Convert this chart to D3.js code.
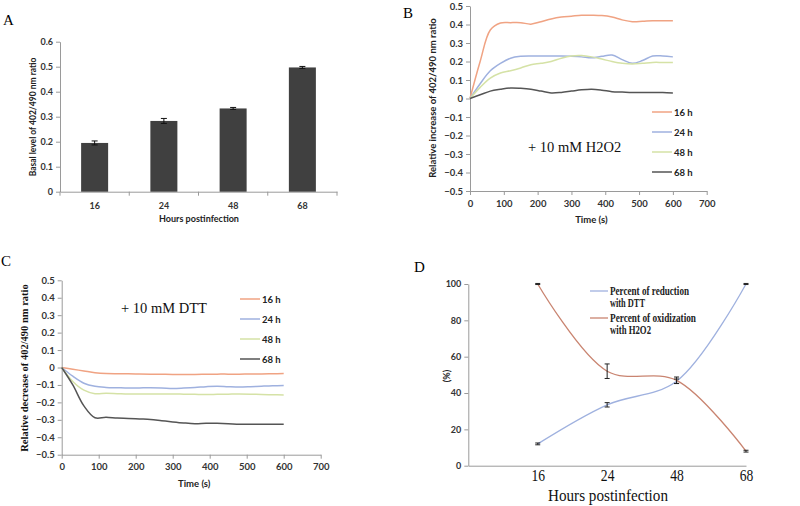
<!DOCTYPE html>
<html lang="en">
<head>
<meta charset="UTF-8">
<title>Redox ratio panels</title>
<script src="https://cdn.jsdelivr.net/npm/d3@7"></script>
<style>
  * { margin: 0; padding: 0; }
  body { background: #fff; }
  svg { display: block; }
  .sans { font-family: Lato, "Open Sans", sans-serif; font-weight: bold; }
  .serif { font-family: "Liberation Serif", "DejaVu Serif", serif; }
</style>
</head>
<body>
<svg width="800" height="506"></svg>
<script>
// ---- data ----
var hours = ["16", "24", "48", "68"];
var basal = [0.195, 0.283, 0.333, 0.497];
var basalErr = [0.008, 0.01, 0.004, 0.004];

var series = ["16 h", "24 h", "48 h", "68 h"];
var seriesColors = ["#f0a383", "#9fb1df", "#d5e2a6", "#555555"];
var times = [0, 30, 60, 90, 120, 150, 180, 210, 240, 270, 300, 330, 360, 390, 420, 450, 480, 510, 540, 570, 600];

// + H2O2
var h2o2_16 = [0, 0.2, 0.37, 0.408, 0.41, 0.41, 0.402, 0.415, 0.43, 0.44, 0.445, 0.45, 0.45, 0.448, 0.44, 0.425, 0.415, 0.417, 0.42, 0.42, 0.42];
var h2o2_24 = [0, 0.08, 0.15, 0.19, 0.218, 0.228, 0.23, 0.23, 0.23, 0.23, 0.228, 0.225, 0.22, 0.228, 0.235, 0.21, 0.19, 0.205, 0.23, 0.23, 0.225];
var h2o2_48 = [0, 0.06, 0.11, 0.138, 0.15, 0.165, 0.183, 0.19, 0.2, 0.218, 0.23, 0.232, 0.225, 0.213, 0.2, 0.19, 0.186, 0.19, 0.195, 0.195, 0.195];
var h2o2_68 = [0, 0.02, 0.04, 0.05, 0.057, 0.055, 0.05, 0.04, 0.03, 0.033, 0.04, 0.047, 0.05, 0.045, 0.037, 0.035, 0.033, 0.033, 0.033, 0.032, 0.03];

// + DTT
var dtt_16 = [0, -0.01, -0.02, -0.03, -0.035, -0.036, -0.036, -0.037, -0.038, -0.039, -0.04, -0.04, -0.04, -0.039, -0.038, -0.038, -0.038, -0.037, -0.037, -0.036, -0.035];
var dtt_24 = [0, -0.05, -0.09, -0.108, -0.114, -0.116, -0.118, -0.117, -0.116, -0.117, -0.12, -0.118, -0.115, -0.11, -0.107, -0.11, -0.112, -0.11, -0.107, -0.105, -0.103];
var dtt_48 = [0, -0.08, -0.13, -0.15, -0.148, -0.15, -0.152, -0.152, -0.152, -0.152, -0.152, -0.153, -0.154, -0.155, -0.154, -0.153, -0.152, -0.153, -0.155, -0.156, -0.157];
var dtt_68 = [0, -0.1, -0.22, -0.288, -0.285, -0.29, -0.292, -0.295, -0.298, -0.305, -0.312, -0.318, -0.322, -0.32, -0.32, -0.322, -0.325, -0.325, -0.325, -0.325, -0.325];

// percent panel
var pctCats = ["", "16", "24", "48", "68"];
var pctDTT = [12, 33.5, 46.5, 100];
var pctDTTErr = [0.5, 1.2, 1.2, 0.3];
var pctH2O2 = [100, 52, 47, 8];
var pctH2O2Err = [0.3, 4, 1.8, 0.5];

var svg = d3.select("svg");
var axisColor = "#9a9a9a";

function styleAxis(g, fontSize) {
  g.select(".domain").attr("stroke", axisColor);
  g.selectAll(".tick line").attr("stroke", axisColor);
  g.selectAll(".tick text").attr("fill", "#333").attr("class", "sans").style("font-size", fontSize + "px");
}

// ================= A =================
var ax = d3.scaleBand().domain(hours).range([60, 337]).paddingInner(0.61).paddingOuter(0.305);
var ay = d3.scaleLinear().domain([0, 0.6]).range([191.7, 41.7]);

svg.append("text").attr("class", "serif").attr("x", 3).attr("y", 25).style("font-size", "15px").text("A");

var gA = svg.append("g");
gA.append("g").attr("transform", "translate(60,0)")
  .call(d3.axisLeft(ay).ticks(6).tickSize(4).tickSizeOuter(0).tickFormat(d3.format("~g")))
  .call(styleAxis, 9);
gA.append("g").attr("transform", "translate(0," + ay(0) + ")")
  .call(d3.axisBottom(ax).tickSize(0).tickPadding(11))
  .call(styleAxis, 9);
// category boundary ticks
var bounds = d3.range(hours.length + 1).map(function (i) { return ax.range()[0] + i * ax.step(); });
gA.selectAll(".btick").data(bounds).enter().append("line")
  .attr("x1", function (d) { return d; }).attr("x2", function (d) { return d; })
  .attr("y1", ay(0)).attr("y2", ay(0) + 4).attr("stroke", axisColor);

gA.selectAll(".bar").data(basal).enter().append("rect")
  .attr("x", function (d, i) { return ax(hours[i]); })
  .attr("y", function (d) { return ay(d); })
  .attr("width", ax.bandwidth())
  .attr("height", function (d) { return ay(0) - ay(d); })
  .attr("fill", "#404040");

var errA = gA.selectAll(".err").data(basal).enter().append("g")
  .attr("transform", function (d, i) { return "translate(" + (ax(hours[i]) + ax.bandwidth() / 2) + ",0)"; });
errA.append("line").attr("y1", function (d, i) { return ay(d - basalErr[i]); })
  .attr("y2", function (d, i) { return ay(d + basalErr[i]); }).attr("stroke", "#111");
errA.append("line").attr("x1", -3).attr("x2", 3).attr("y1", function (d, i) { return ay(d - basalErr[i]); })
  .attr("y2", function (d, i) { return ay(d - basalErr[i]); }).attr("stroke", "#111");
errA.append("line").attr("x1", -3).attr("x2", 3).attr("y1", function (d, i) { return ay(d + basalErr[i]); })
  .attr("y2", function (d, i) { return ay(d + basalErr[i]); }).attr("stroke", "#111");

svg.append("text").attr("class", "sans").attr("text-anchor", "middle")
  .attr("x", 199).attr("y", 222).style("font-size", "9px").attr("fill", "#222").text("Hours postinfection");
svg.append("text").attr("class", "sans").attr("text-anchor", "middle")
  .attr("transform", "translate(36,117) rotate(-90)").style("font-size", "8.5px").attr("fill", "#222")
  .text("Basal level of 402/490 nm ratio");

// ================= B & C (time courses) =================
function timePanel(opts) {
  var x = d3.scaleLinear().domain([0, 700]).range(opts.xr);
  var y = d3.scaleLinear().domain([-0.5, 0.5]).range(opts.yr);
  var g = svg.append("g");
  g.append("g").attr("transform", "translate(" + opts.xr[0] + ",0)")
    .call(d3.axisLeft(y).ticks(10).tickSize(4).tickSizeOuter(0).tickFormat(d3.format("~g")))
    .call(styleAxis, 9.5);
  g.append("g").attr("transform", "translate(0," + opts.yr[0] + ")")
    .call(d3.axisBottom(x).ticks(7).tickSize(4).tickSizeOuter(0).tickPadding(5))
    .call(styleAxis, 9.5);

  var line = d3.line()
    .x(function (d, i) { return x(times[i]); })
    .y(function (d) { return y(d); })
    .curve(d3.curveCatmullRom.alpha(0.5));
  opts.data.forEach(function (s, k) {
    g.append("path").datum(s).attr("d", line).attr("fill", "none")
      .attr("stroke", seriesColors[k]).attr("stroke-width", 1.5);
  });

  // legend
  series.forEach(function (name, k) {
    var ly = opts.legY + k * 20;
    g.append("line").attr("x1", opts.legX).attr("x2", opts.legX + 20).attr("y1", ly).attr("y2", ly)
      .attr("stroke", seriesColors[k]).attr("stroke-width", 1.5);
    g.append("text").attr("class", "sans").attr("x", opts.legX + 22).attr("y", ly + 3.5)
      .style("font-size", "9.5px").attr("fill", "#222").text(name);
  });

  g.append("text").attr("class", "serif").attr("x", opts.noteX).attr("y", opts.noteY)
    .style("font-size", "14.5px").attr("fill", "#111").text(opts.note);
  g.append("text").attr("class", "sans").attr("text-anchor", "middle")
    .attr("x", (opts.xr[0] + opts.xr[1]) / 2 + 3).attr("y", opts.yr[0] + 32)
    .style("font-size", "9.5px").attr("fill", "#222").text("Time (s)");
  return g;
}

svg.append("text").attr("class", "serif").attr("x", 403).attr("y", 18).style("font-size", "15px").text("B");
timePanel({
  xr: [470, 706.7], yr: [191, 6],
  data: [h2o2_16, h2o2_24, h2o2_48, h2o2_68],
  legX: 652, legY: 112,
  note: "+ 10 mM H2O2", noteX: 528, noteY: 152
});
svg.append("text").attr("class", "sans").attr("text-anchor", "middle")
  .attr("transform", "translate(436,98) rotate(-90)").style("font-size", "9.5px").attr("fill", "#222")
  .text("Relative increase of 402/490 nm ratio");

svg.append("text").attr("class", "serif").attr("x", 1).attr("y", 266).style("font-size", "15px").text("C");
timePanel({
  xr: [61.7, 320.7], yr: [454.7, 280.3],
  data: [dtt_16, dtt_24, dtt_48, dtt_68],
  legX: 240, legY: 299,
  note: "+ 10 mM DTT", noteX: 121, noteY: 313
});
svg.append("text").attr("class", "serif").attr("text-anchor", "middle")
  .attr("transform", "translate(28,368) rotate(-90)").style("font-size", "10.5px").style("font-weight", "bold")
  .attr("fill", "#111").text("Relative decrease of 402/490 nm ratio");

// ================= D =================
var dx = d3.scalePoint().domain(pctCats).range([468.3, 746]);
var dy = d3.scaleLinear().domain([0, 100]).range([465.7, 284]);

svg.append("text").attr("class", "serif").attr("x", 414).attr("y", 272).style("font-size", "15px").text("D");

var gD = svg.append("g");
gD.append("g").attr("transform", "translate(468.3,0)")
  .call(d3.axisLeft(dy).ticks(5).tickSize(4).tickSizeOuter(0))
  .call(styleAxis, 9);
var dxAxis = gD.append("g").attr("transform", "translate(0," + dy(0) + ")")
  .call(d3.axisBottom(dx).tickSize(0).tickPadding(3));
dxAxis.select(".domain").attr("stroke", axisColor);
dxAxis.selectAll(".tick text").attr("class", "serif").style("font-size", "17px").attr("fill", "#111")
  .attr("transform", "scale(0.8,1)");

var dline = d3.line()
  .x(function (d, i) { return dx(hours[i]); })
  .y(function (d) { return dy(d); })
  .curve(d3.curveCatmullRom.alpha(0.5));
var pctSeries = [
  { v: pctDTT, e: pctDTTErr, c: "#9fb1df" },
  { v: pctH2O2, e: pctH2O2Err, c: "#c98470" }
];
pctSeries.forEach(function (s) {
  gD.append("path").datum(s.v).attr("d", dline).attr("fill", "none")
    .attr("stroke", s.c).attr("stroke-width", 1.3);
});
pctSeries.forEach(function (s) {
  s.v.forEach(function (v, i) {
    var cx = dx(hours[i]), lo = dy(v - s.e[i]), hi = dy(v + s.e[i]);
    gD.append("line").attr("x1", cx).attr("x2", cx).attr("y1", lo).attr("y2", hi).attr("stroke", "#222");
    [lo, hi].forEach(function (yy) {
      gD.append("line").attr("x1", cx - 2.5).attr("x2", cx + 2.5).attr("y1", yy).attr("y2", yy).attr("stroke", "#222");
    });
  });
});

// legend D
var legD = [
  { c: "#9fb1df", l1: "Percent of reduction", w1: 79, l2: "with DTT", w2: 35, y: 291 },
  { c: "#c98470", l1: "Percent of oxidization", w1: 86, l2: "with H2O2", w2: 41, y: 318 }
];
legD.forEach(function (d) {
  gD.append("line").attr("x1", 590).attr("x2", 608).attr("y1", d.y).attr("y2", d.y).attr("stroke", d.c).attr("stroke-width", 1.3);
  gD.append("text").attr("class", "serif").attr("x", 610).attr("y", d.y + 4)
    .attr("textLength", d.w1).attr("lengthAdjust", "spacingAndGlyphs")
    .style("font-size", "11.5px").style("font-weight", "bold").attr("fill", "#222").text(d.l1);
  gD.append("text").attr("class", "serif").attr("x", 610).attr("y", d.y + 16)
    .attr("textLength", d.w2).attr("lengthAdjust", "spacingAndGlyphs")
    .style("font-size", "11.5px").style("font-weight", "bold").attr("fill", "#222").text(d.l2);
});

svg.append("text").attr("class", "serif").attr("text-anchor", "middle")
  .attr("x", 608).attr("y", 501).attr("textLength", 120).attr("lengthAdjust", "spacingAndGlyphs")
  .style("font-size", "17px").attr("fill", "#111").text("Hours postinfection");
svg.append("text").attr("class", "sans").attr("text-anchor", "middle")
  .attr("transform", "translate(450,376) rotate(-90)").style("font-size", "9px").attr("fill", "#222").text("(%)");
</script>
</body>
</html>
